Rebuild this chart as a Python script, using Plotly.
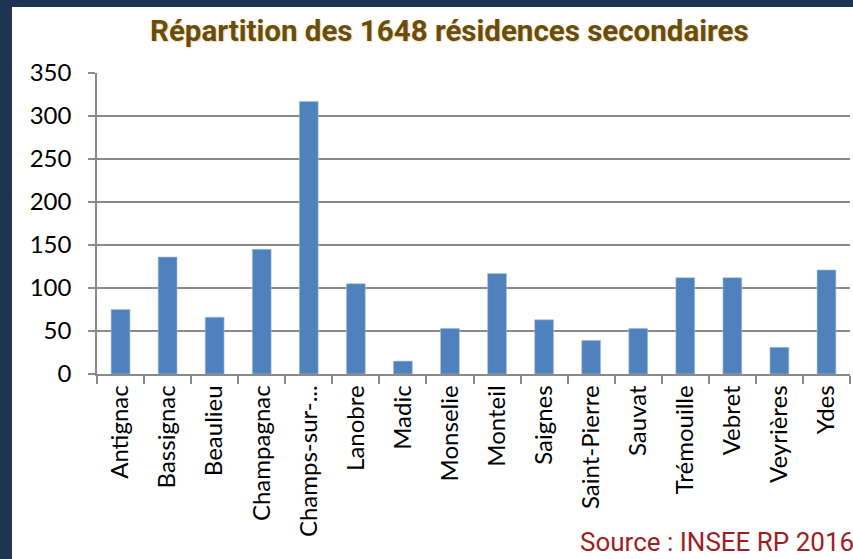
import plotly.graph_objects as go

communes = ["Antignac", "Bassignac", "Beaulieu", "Champagnac", "Champs-sur-...",
            "Lanobre", "Madic", "Monselie", "Monteil", "Saignes", "Saint-Pierre",
            "Sauvat", "Trémouille", "Vebret", "Veyrières", "Ydes"]
residences = [75, 136, 66, 145, 317, 105, 15, 53, 117, 63, 39, 53, 112, 112, 31, 121]
y_ticks = [0, 50, 100, 150, 200, 250, 300, 350]

title_text = "Répartition des 1648 résidences secondaires"
source_text = "Source : INSEE RP 2016"

W, H = 853, 559
L, R, T, B = 97, 3, 73, 185
PW, PH = W - L - R, H - T - B


def px(x):
    return (x - L) / PW


def py(y):
    return (H - B - y) / PH


navy = "#1c3553"
grid = "#8a8a8a"

fig = go.Figure(go.Bar(
    x=communes, y=residences,
    marker=dict(color="#4f81bd", line=dict(color="#a9c0df", width=0.6)),
))

fig.update_layout(
    width=W, height=H,
    margin=dict(l=L, r=R, t=T, b=B),
    paper_bgcolor="white", plot_bgcolor="white",
    bargap=0.6, showlegend=False,
    shapes=[
        dict(type="rect", xref="paper", yref="paper", x0=px(-5), x1=px(12),
             y0=py(H + 5), y1=py(-5), fillcolor=navy, line=dict(width=0), layer="below"),
        dict(type="rect", xref="paper", yref="paper", x0=px(-5), x1=px(W + 5),
             y0=py(7), y1=py(-5), fillcolor=navy, line=dict(width=0), layer="below"),
    ],
    annotations=[
        dict(text=title_text, xref="paper", yref="paper", x=px(449), y=py(31),
             xanchor="center", yanchor="middle", showarrow=False,
             font=dict(family="Roboto", size=29.5, color="#6b4c08", weight="bold",
                       shadow="1px 1px 2px #e3dab8")),
        dict(text=source_text, xref="paper", yref="paper", x=px(579), y=py(558),
             xanchor="left", yanchor="bottom", showarrow=False, borderpad=0,
             font=dict(family="Roboto", size=26, color="#9c1f1f")),
    ],
)

fig.update_xaxes(
    showline=True, linecolor=grid, linewidth=1.5,
    ticks="outside", tickson="boundaries", ticklen=8, tickcolor=grid, tickwidth=1.5,
    tickangle=-90, tickfont=dict(family="Lato, Carlito, Open Sans", size=24, color="black"),
    showgrid=False,
)
fig.update_yaxes(
    range=[0, 350], tickvals=y_ticks,
    showgrid=True, gridcolor=grid, gridwidth=1.5,
    showline=True, linecolor=grid, linewidth=1.5,
    ticks="outside", ticklen=7, tickcolor=grid, tickwidth=1.5,
    zeroline=False,
    tickfont=dict(family="Lato, Carlito, Open Sans", size=24, color="black"),
    ticklabelstandoff=12,
)

fig.write_html("out.html", config={"displayModeBar": False},
               post_script="document.body.style.margin='0';document.body.style.overflow='hidden';")
